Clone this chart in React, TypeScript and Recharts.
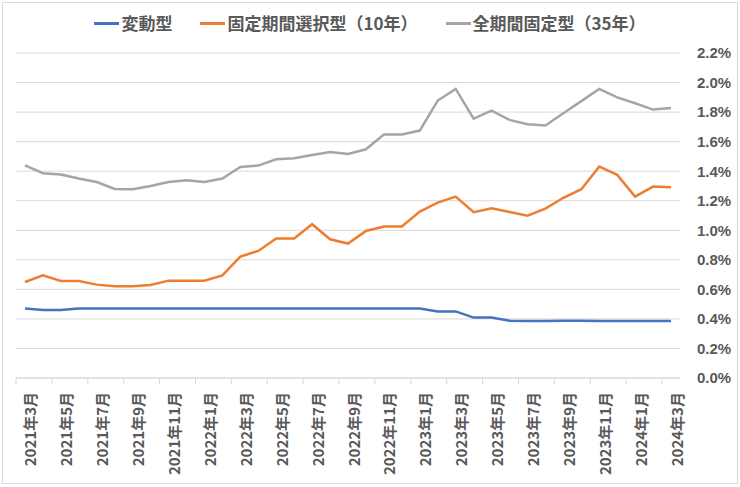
import React from 'react';
import { LineChart, Line, XAxis, YAxis, CartesianGrid, Legend } from 'recharts';

const months = [
  '2021年3月', '2021年4月', '2021年5月', '2021年6月', '2021年7月', '2021年8月',
  '2021年9月', '2021年10月', '2021年11月', '2021年12月', '2022年1月', '2022年2月',
  '2022年3月', '2022年4月', '2022年5月', '2022年6月', '2022年7月', '2022年8月',
  '2022年9月', '2022年10月', '2022年11月', '2022年12月', '2023年1月', '2023年2月',
  '2023年3月', '2023年4月', '2023年5月', '2023年6月', '2023年7月', '2023年8月',
  '2023年9月', '2023年10月', '2023年11月', '2023年12月', '2024年1月', '2024年2月',
  '2024年3月',
];

// 変動型
const variable = [
  0.470, 0.461, 0.461, 0.470, 0.470, 0.470, 0.470, 0.470, 0.470, 0.470,
  0.470, 0.470, 0.470, 0.470, 0.470, 0.470, 0.470, 0.470, 0.470, 0.470,
  0.470, 0.470, 0.470, 0.451, 0.451, 0.409, 0.409, 0.388, 0.386, 0.386,
  0.388, 0.388, 0.386, 0.386, 0.386, 0.386, 0.386,
];

// 固定期間選択型（10年）
const fixed10 = [
  0.650, 0.695, 0.657, 0.657, 0.632, 0.621, 0.621, 0.630, 0.659, 0.659,
  0.659, 0.695, 0.822, 0.860, 0.944, 0.944, 1.041, 0.939, 0.910, 0.995,
  1.025, 1.025, 1.126, 1.187, 1.228, 1.122, 1.149, 1.124, 1.099, 1.147,
  1.220, 1.278, 1.431, 1.375, 1.228, 1.296, 1.291,
];

// 全期間固定型（35年）
const fixed35 = [
  1.440, 1.386, 1.377, 1.350, 1.327, 1.280, 1.278, 1.300, 1.327, 1.339,
  1.327, 1.350, 1.429, 1.438, 1.481, 1.488, 1.510, 1.530, 1.517, 1.548,
  1.648, 1.648, 1.675, 1.878, 1.957, 1.756, 1.810, 1.747, 1.718, 1.709,
  1.792, 1.874, 1.957, 1.900, 1.860, 1.817, 1.828,
];

const yTicks = [0, 0.2, 0.4, 0.6, 0.8, 1.0, 1.2, 1.4, 1.6, 1.8, 2.0, 2.2];

const series = [
  { key: 'variable', name: '変動型', color: '#4472C4' },
  { key: 'fixed10', name: '固定期間選択型（10年）', color: '#ED7D31' },
  { key: 'fixed35', name: '全期間固定型（35年）', color: '#A5A5A5' },
];

const data = months.map((month, i) => ({
  month,
  variable: variable[i],
  fixed10: fixed10[i],
  fixed35: fixed35[i],
}));

const WIDTH = 740;
const HEIGHT = 487;
const MARGIN = { top: 53, right: 0, bottom: 9, left: 16 };
const Y_AXIS_W = 60;
const BAND = (WIDTH - MARGIN.left - MARGIN.right - Y_AXIS_W) / months.length;

const textColor = '#595959';

function MonthTick(props: any) {
  const { x, y, payload } = props;
  const edge = x - BAND / 2;
  const tx = x + 5;
  const ty = y + 14;
  return (
    <g>
      <line x1={edge} y1={y} x2={edge} y2={y + 6} stroke="#d9d9d9" />
      <text
        x={tx}
        y={ty}
        transform={`rotate(-90, ${tx}, ${ty})`}
        textAnchor="end"
        dominantBaseline="central"
        fill={textColor}
        fontSize={15}
        fontWeight="bold"
        fontFamily="'Noto Sans CJK JP', 'Liberation Sans', sans-serif"
      >
        {payload.value}
      </text>
    </g>
  );
}

function LegendRow() {
  return (
    <div style={{ display: 'flex', justifyContent: 'center', gap: 28 }}>
      {series.map((s) => (
        <div key={s.key} style={{ display: 'flex', alignItems: 'center' }}>
          <span style={{ display: 'inline-block', width: 25, height: 3, background: s.color, marginRight: 2 }} />
          <span
            style={{
              color: textColor,
              fontSize: 17,
              fontWeight: 'bold',
              fontFamily: "'Noto Sans CJK JP', sans-serif",
              lineHeight: '24px',
            }}
          >
            {s.name}
          </span>
        </div>
      ))}
    </div>
  );
}

export default function App() {
  return (
    <div style={{ position: 'relative', width: WIDTH, height: HEIGHT, background: '#fff' }}>
      <style>{'body { margin: 0; }'}</style>
      <LineChart width={WIDTH} height={HEIGHT} data={data} margin={MARGIN}>
        <CartesianGrid vertical={false} stroke="#d9d9d9" />
        <XAxis
          dataKey="month"
          scale="band"
          interval={1}
          height={100}
          tickSize={0}
          tickMargin={0}
          tickLine={false}
          axisLine={{ stroke: '#d9d9d9' }}
          tick={<MonthTick />}
        />
        <YAxis
          orientation="right"
          width={Y_AXIS_W}
          domain={[0, 2.2]}
          ticks={yTicks}
          axisLine={false}
          tickLine={false}
          tickSize={6}
          tickMargin={11}
          tickFormatter={(v: number) => `${v.toFixed(1)}%`}
          tick={{ fill: textColor, fontSize: 15, fontWeight: 'bold', fontFamily: "'Liberation Sans', sans-serif" }}
        />
        <Legend
          layout="horizontal"
          verticalAlign="middle"
          align="center"
          wrapperStyle={{ position: 'absolute', top: 11, left: 0, width: WIDTH }}
          content={() => <LegendRow />}
        />
        {series.map((s) => (
          <Line
            key={s.key}
            type="linear"
            dataKey={s.key}
            name={s.name}
            stroke={s.color}
            strokeWidth={2.5}
            dot={false}
            activeDot={false}
            isAnimationActive={false}
          />
        ))}
      </LineChart>
      <div
        style={{
          position: 'absolute',
          left: 2,
          top: 2,
          width: 734,
          height: 480,
          border: '1px solid #d9d9d9',
          pointerEvents: 'none',
        }}
      />
    </div>
  );
}
